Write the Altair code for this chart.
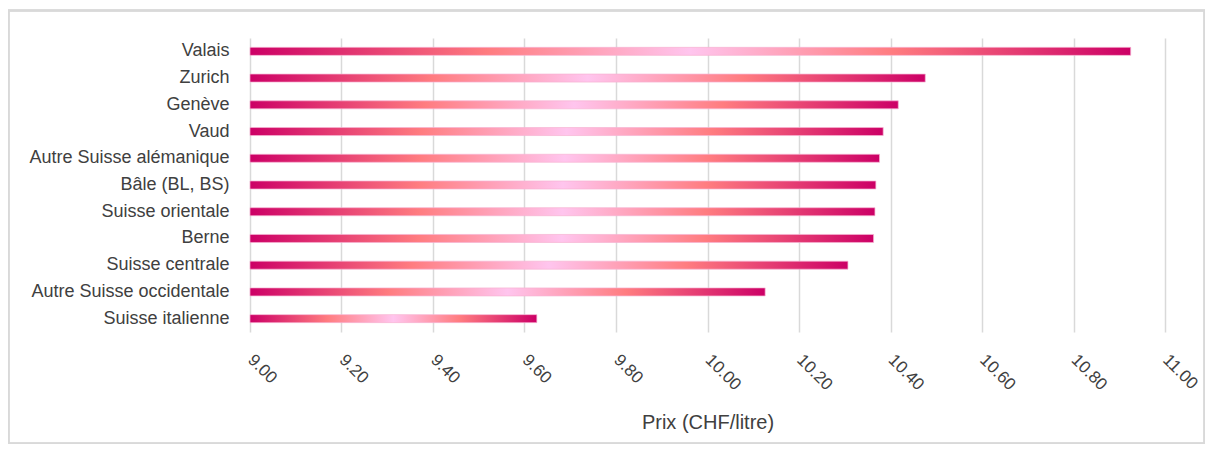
import altair as alt
import pandas as pd

regions = [
    "Valais", "Zurich", "Genève", "Vaud", "Autre Suisse alémanique",
    "Bâle (BL, BS)", "Suisse orientale", "Berne", "Suisse centrale",
    "Autre Suisse occidentale", "Suisse italienne",
]
prices = [10.925, 10.476, 10.417, 10.384, 10.376, 10.368, 10.366, 10.363,
          10.307, 10.126, 9.627]
x_ticks = [9.0, 9.2, 9.4, 9.6, 9.8, 10.0, 10.2, 10.4, 10.6, 10.8, 11.0]

df = pd.DataFrame({"region": regions, "prix": prices, "base": [9.0] * len(regions)})

FONT = "Liberation Sans"
TXT = "#404040"

grad = alt.Gradient(
    gradient="linear",
    stops=[
        alt.GradientStop(color="#CC0066", offset=0),
        alt.GradientStop(color="#FF7C80", offset=0.27),
        alt.GradientStop(color="#FFC5EE", offset=0.5),
        alt.GradientStop(color="#FF7C80", offset=0.73),
        alt.GradientStop(color="#CC0066", offset=1),
    ],
    x1=0, x2=1, y1=0, y2=0,
)

bars = alt.Chart(df).mark_bar(
    size=8, color=grad, stroke="#F6B3D3", strokeWidth=0.7
).encode(
    y=alt.Y(
        "region:N", sort=regions, title=None,
        axis=alt.Axis(
            ticks=False, domain=False, grid=False, labelPadding=21,
            labelFont=FONT, labelFontSize=18, labelColor=TXT, labelLimit=300,
        ),
    ),
    x=alt.X(
        "base:Q",
        scale=alt.Scale(domain=[9, 11], nice=False, zero=False),
        title="Prix (CHF/litre)",
        axis=alt.Axis(
            values=x_ticks, format=".2f", labelAngle=45, labelAlign="left",
            labelBaseline="middle", labelPadding=25, ticks=False, domain=False,
            grid=True, gridColor="#D9D9D9", gridWidth=1.5,
            labelFont=FONT, labelFontSize=17, labelColor=TXT,
            titleFont=FONT, titleFontSize=20, titleFontWeight="normal",
            titleColor=TXT, titleY=90, titleBaseline="middle",
        ),
    ),
    x2="prix:Q",
)

frame = alt.Chart(df).mark_rect(
    fill=None, stroke="#D9D9D9", strokeWidth=1.5, clip=False
).encode(
    x=alt.value(-241.5), x2=alt.value(954.5),
    y=alt.value(-27.5), y2=alt.value(405.5),
)

chart = alt.layer(frame, bars).properties(
    width=915,
    height=294,
    autosize=alt.AutoSizeParams(type="none"),
    padding={"left": 242, "top": 30, "right": 40, "bottom": 112},
).configure_view(stroke=None).configure_scale(bandPaddingInner=0.0)

chart.save("out.html", embed_options={"renderer": "svg", "actions": False})
